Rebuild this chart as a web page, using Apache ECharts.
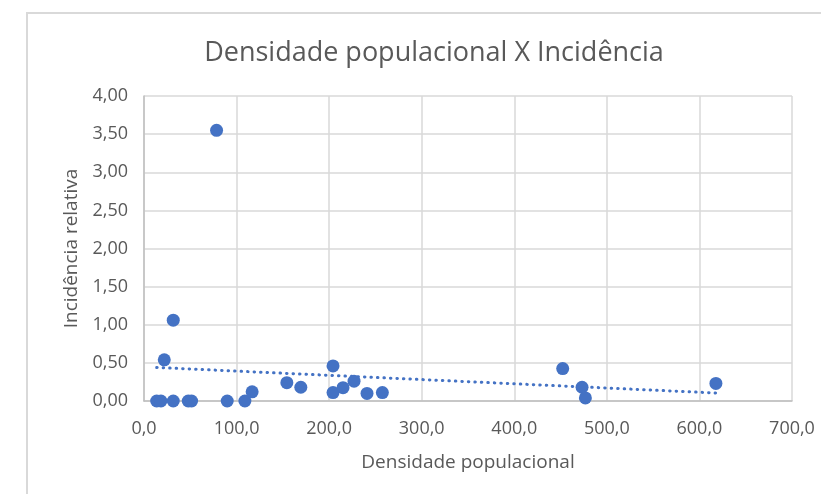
<!DOCTYPE html>
<html>
<head>
<meta charset="utf-8">
<script src="https://cdn.jsdelivr.net/npm/echarts@6/dist/echarts.min.js"></script>
<style>
html,body{margin:0;padding:0;background:#fff;}
#chart{width:821px;height:494px;}
</style>
</head>
<body>
<div id="chart"></div>
<script>
var titleText = 'Densidade populacional X Incidência';
var xName = 'Densidade populacional';
var yName = 'Incidência relativa';
var densidade = [78.4, 31.6, 21.9, 13.7, 18.3, 31.6, 47.8, 51.4, 89.9, 109.0, 116.8, 154.3, 169.4, 204.2, 204.2, 215.0, 226.9, 240.9, 257.5, 452.3, 473.2, 476.8, 617.8];
var incidencia = [3.55, 1.06, 0.54, 0, 0, 0, 0, 0, 0, 0, 0.12, 0.24, 0.18, 0.46, 0.11, 0.175, 0.26, 0.10, 0.11, 0.425, 0.18, 0.04, 0.23];
var trendX = [13.7, 617.8];
var trendY = [0.44, 0.105];

var points = densidade.map(function (x, i) { return [x, incidencia[i]]; });
var trend = trendX.map(function (x, i) { return [x, trendY[i]]; });

var chart = echarts.init(document.getElementById('chart'), null, {renderer: 'canvas'});
var font = '"Open Sans", "Noto Sans", sans-serif';
chart.setOption({
  animation: false,
  backgroundColor: '#fff',
  graphic: [
    {type: 'rect', shape: {x: 27, y: 13, width: 820, height: 500}, style: {fill: 'none', stroke: '#d9d9d9', lineWidth: 2}, silent: true},
    {type: 'text', x: 434, y: 53, style: {text: titleText, fill: '#595959', font: '27px ' + font, textAlign: 'center', textVerticalAlign: 'middle'}}
  ],
  grid: {left: 144, right: 29, top: 96, bottom: 93},
  xAxis: {
    type: 'value', min: 0, max: 700, interval: 100,
    name: xName, nameLocation: 'middle', nameGap: 52,
    nameTextStyle: {color: '#595959', fontSize: 19, fontFamily: font},
    axisLine: {show: true, lineStyle: {color: '#bfbfbf', width: 1.5}},
    axisTick: {show: false},
    axisLabel: {color: '#595959', fontSize: 18, fontFamily: font, margin: 19,
      formatter: function (v) { return v.toFixed(1).replace('.', ','); }},
    splitLine: {show: true, lineStyle: {color: '#d9d9d9', width: 1.5}}
  },
  yAxis: {
    type: 'value', min: 0, max: 4, interval: 0.5,
    name: yName, nameLocation: 'middle', nameGap: 62,
    nameTextStyle: {color: '#595959', fontSize: 19, fontFamily: font},
    axisLine: {show: true, lineStyle: {color: '#bfbfbf', width: 1.5}},
    axisTick: {show: false},
    axisLabel: {color: '#595959', fontSize: 18, fontFamily: font, margin: 16,
      formatter: function (v) { return v.toFixed(2).replace('.', ','); }},
    splitLine: {show: true, lineStyle: {color: '#d9d9d9', width: 1.5}}
  },
  series: [
    {
      type: 'line', data: trend, symbol: 'none', z: 1,
      lineStyle: {color: '#4472C4', width: 3, type: [0.5, 6], cap: 'round'}
    },
    {
      type: 'scatter', data: points, symbol: 'circle', symbolSize: 13, z: 2,
      itemStyle: {color: '#4472C4', opacity: 1}
    }
  ]
});
</script>
</body>
</html>
